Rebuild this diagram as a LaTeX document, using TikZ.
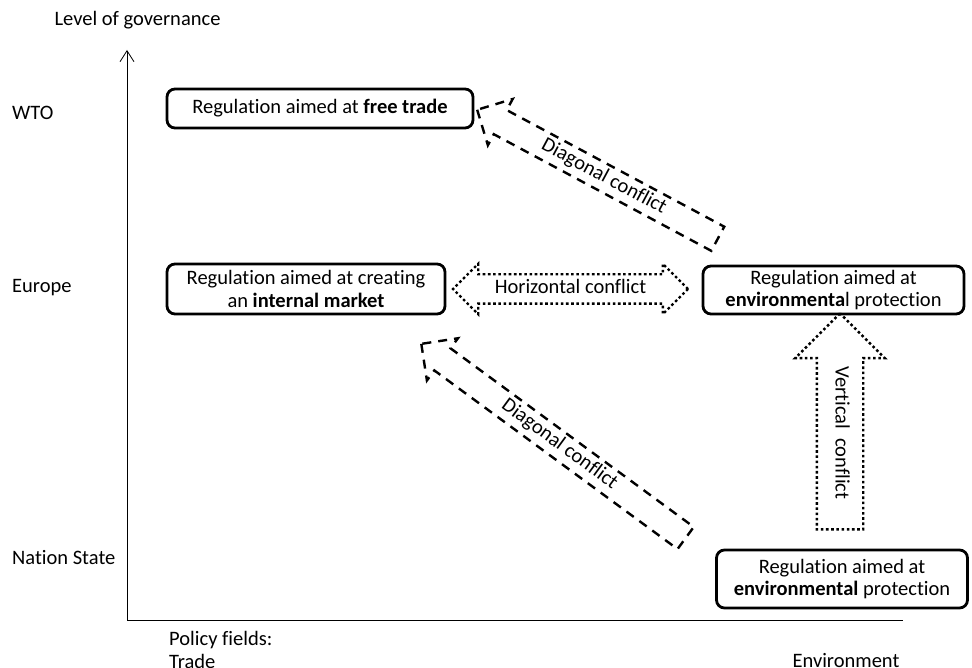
\documentclass[tikz,border=0pt]{standalone}
\usepackage{fontspec}
\setmainfont{Carlito}[Ligatures=NoCommon]
\usetikzlibrary{arrows.meta,shapes.arrows}
\usetikzlibrary{positioning}
\tikzset{regbox/.style={draw,line width=2.8pt,rounded corners=8pt,align=center,inner sep=0pt},
  blockarr/.style={draw,line width=2.4pt,text height=13pt,text depth=4pt,inner xsep=0pt},
  dasharr/.style={blockarr,dash pattern=on 9pt off 7pt},
  dotarr/.style={blockarr,dash pattern=on 2.6pt off 2.6pt},
  lvl/.style={anchor=west,inner sep=0pt}}

\begin{document}
\begin{tikzpicture}[x=1pt,y=-1pt,line join=miter,font=\fontsize{20.5}{22.5}\selectfont]
\useasboundingbox (0,0) rectangle (972,668);
% --- axes
\coordinate (orig) at (127,620);
\coordinate (ytop) at (127,50);
\coordinate (xend) at (903,620);
\draw[line width=0.8pt,-{Straight Barb[length=11pt,width=14pt,line width=0.8pt]}] (orig) -- (ytop);
\draw[line width=0.8pt] (orig) -- (xend);
\node (yname) at (137.5,20) {Level of governance};
\node[lvl] (wto) at (12,113) {WTO};
\node[lvl] (eu) at (12,288) {Europe};
\node[lvl] (ns) at (12,558) {Nation State};
\node[lvl] (pf) at (169,640) {Policy fields:};
\node[lvl] (trade) at (169,661) {Trade};
\node (env) at (846,661) {Environment};
% --- regulation boxes
\node[regbox,minimum width=306,minimum height=39] (freetrade) at (320,108.5) {Regulation aimed at \textbf{free trade}};
\node[regbox,minimum width=278,minimum height=50] (market) at (306,289) {Regulation aimed at creating\\an \textbf{internal market}};
\node[regbox,minimum width=261,minimum height=48] (euenv) at (833.5,290) {Regulation aimed at\\\textbf{environmenta}l protection};
\node[regbox,minimum width=251,minimum height=58] (nsenv) at (842,579) {Regulation aimed at\\\textbf{environmental} protection};
% --- conflicts
\node[dotarr,double arrow,double arrow head extend=10.5pt,inner ysep=5pt,minimum height=235] (horiz) at (570.5,289) {Horizontal conflict};
\node[dotarr,single arrow,single arrow head extend=21.5pt,inner ysep=13.5pt,minimum height=216,rotate=-90,shape border rotate=180] (vert) at (840,433) {Vertical\ \ conflict};
\node[dasharr,single arrow,single arrow head extend=12.5pt,inner ysep=4pt,minimum height=273,rotate=-28.2,shape border rotate=180] (diagup) at (603.5,177.5) {Diagonal conflict};
\node[dasharr,single arrow,single arrow head extend=12.5pt,inner ysep=4pt,minimum height=328,rotate=-36.3,shape border rotate=180] (diaglow) at (559,445) {Diagonal conflict};
\end{tikzpicture}
\end{document}
